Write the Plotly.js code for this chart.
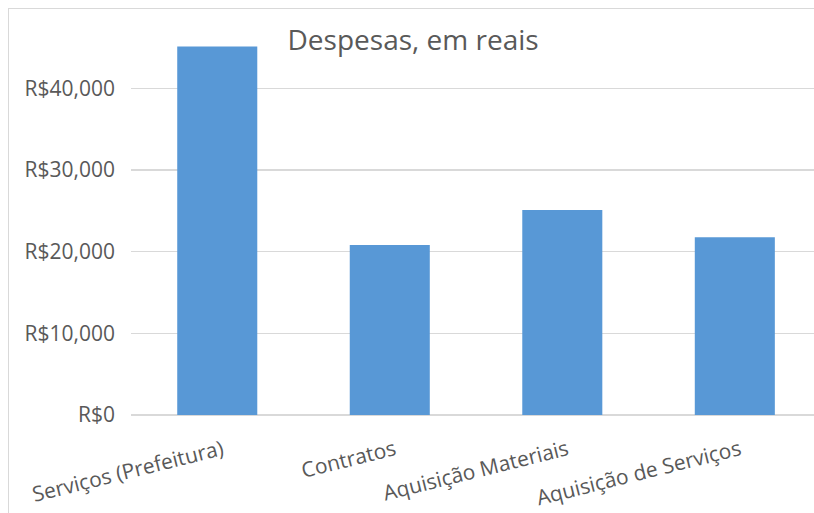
<!DOCTYPE html>
<html>
<head>
<meta charset="utf-8">
<script src="https://cdn.plot.ly/plotly-3.0.1.min.js"></script>
<style>
  html, body { margin: 0; padding: 0; background: #ffffff; overflow: hidden; }
  #frame { position: absolute; left: 8px; top: 8px; width: 1000px; height: 1000px;
           border-left: 1.5px solid #d9d9d9; border-top: 1.5px solid #d9d9d9; box-sizing: border-box; }
  #chart { position: absolute; left: 0; top: 0; width: 814px; height: 513px; }
</style>
</head>
<body>
<div id="frame"></div>
<div id="chart"></div>
<script>
const categories = ["Serviços (Prefeitura)", "Contratos", "Aquisição Materiais", "Aquisição de Serviços"];
const despesas = [45100, 20800, 25100, 21750];
const tickValues = [0, 10000, 20000, 30000, 40000];
const tickLabels = ["R$0", "R$10,000", "R$20,000", "R$30,000", "R$40,000"];

const trace = {
  type: "bar",
  x: categories,
  y: despesas,
  marker: { color: "#5898d6", line: { width: 0 } },
  hoverinfo: "x+y"
};

const layout = {
  width: 814,
  height: 513,
  margin: { l: 131, r: 0, t: 46, b: 98 },
  paper_bgcolor: "rgba(0,0,0,0)",
  plot_bgcolor: "rgba(0,0,0,0)",
  bargap: 0.536,
  showlegend: false,
  font: { family: "Open Sans, sans-serif", color: "#595959" },
  title: {
    text: "Despesas, em reais",
    font: { family: "Open Sans, sans-serif", size: 28, color: "#595959" },
    x: 0.413, xref: "paper", xanchor: "center",
    y: 0.903, yref: "container", yanchor: "bottom"
  },
  xaxis: {
    type: "category",
    range: [-0.5, 3.459],
    tickangle: -14,
    tickfont: { size: 21, color: "#595959" },
    showgrid: false,
    showline: false,
    ticks: "",
    ticklabelstandoff: 18,
    ticklabelshift: 5,
    fixedrange: true
  },
  yaxis: {
    range: [0, 45165],
    tickvals: tickValues,
    ticktext: tickLabels,
    tickfont: { size: 21, color: "#595959" },
    showgrid: true,
    gridcolor: "#d9d9d9",
    gridwidth: 1.2,
    zeroline: true,
    zerolinecolor: "#d9d9d9",
    zerolinewidth: 1.5,
    showline: false,
    ticks: "",
    ticklabelstandoff: 15,
    fixedrange: true
  }
};

Plotly.newPlot("chart", [trace], layout, { displayModeBar: false, staticPlot: true });
</script>
</body>
</html>
